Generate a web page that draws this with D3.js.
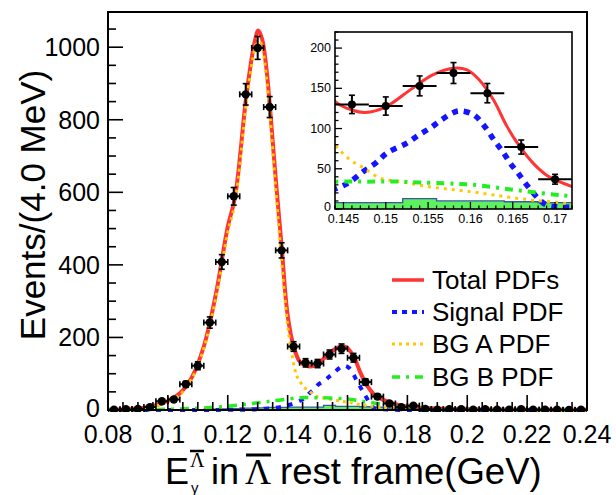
<!DOCTYPE html>
<html><head><meta charset="utf-8">
<script src="https://cdn.jsdelivr.net/npm/d3@7"></script>
<style>body{margin:0;background:#fff}svg{display:block}</style>
</head><body>
<svg id="c" width="616" height="495"></svg>
<script>
// ---------------- DATA ----------------
const binCenters = [0.082,0.086,0.090,0.094,0.098,0.102,0.106,0.110,0.114,0.118,
                    0.122,0.126,0.130,0.134,0.138,0.142,0.146,0.150,0.154,0.158,
                    0.162,0.166,0.170,0.174,0.178,0.182,0.186,0.190,0.194,0.198,
                    0.202,0.206,0.210,0.214,0.218,0.222,0.226,0.230,0.234,0.238];
const binHalfWidth = 0.002;
const counts = [1,2,3,8,24,29,71,122,241,408,
                589,870,998,835,440,175,130,128,153,169,
                144,77,37,18,8,12,3,1,2,2,
                1,2,1,1,2,1,1,1,0,1];
const peakingBg = [0,0,0,0,0,0,1,1,2,3,
                   4,5,6,7,7,8,8,8,13,10,
                   10,9,8,5,3,2,1,1,1,1,
                   1,1,1,1,1,1,1,1,1,1];
const totalPdf = [[0.080,1],[0.088,3],[0.092,6],[0.096,13],[0.100,25],[0.104,46],[0.108,90],
  [0.112,175],[0.116,318],[0.120,505],[0.1224,585],[0.1263,872],[0.129,1015],[0.1302,1046],
  [0.1315,1022],[0.133,935],[0.1341,835],[0.136,640],[0.138,450],[0.140,262],[0.142,176],
  [0.144,134],[0.146,123],[0.1476,120],[0.150,127],[0.153,149],[0.1556,167],[0.158,175],
  [0.1596,173],[0.161,161],[0.1627,136],[0.1643,103],[0.1658,78],[0.1674,57],[0.169,42],
  [0.1705,34],[0.172,28],[0.175,18],[0.180,9],[0.190,4],[0.200,2],[0.220,1],[0.240,1]];
const signalPdf = [[0.080,0],[0.120,0.5],[0.130,2],[0.136,6],[0.140,13],[0.1443,26],[0.1458,34],
  [0.1474,47],[0.1488,57],[0.1502,70],[0.1525,82],[0.1539,92],[0.1553,101],[0.1566,111],
  [0.158,120],[0.1588,122],[0.1604,117],[0.1618,101],[0.1629,84],[0.1639,70],[0.1647,57],
  [0.1656,45],[0.1668,28],[0.1682,11],[0.169,5],[0.170,3],[0.172,2],[0.176,0.5],[0.180,0],[0.240,0]];
const bgAPdf = [[0.080,0],[0.090,2],[0.096,11],[0.100,23],[0.104,42],[0.108,86],[0.112,170],
  [0.116,308],[0.120,490],[0.1224,570],[0.1263,852],[0.129,995],[0.1302,1025],[0.1315,1000],
  [0.133,912],[0.1341,812],[0.136,612],[0.138,410],[0.140,235],[0.1413,160],[0.143,95],
  [0.1443,76],[0.1458,61],[0.1474,51],[0.1494,38],[0.1517,34],[0.1549,28],[0.158,24],
  [0.1611,20],[0.1643,15],[0.1674,11],[0.1705,8],[0.172,6],[0.176,4],[0.180,2],[0.190,1],[0.240,0]];
const bgBPdf = [[0.080,0],[0.090,1],[0.100,2],[0.110,5],[0.118,9],[0.127,17],[0.132,22],
  [0.137,27],[0.1443,34],[0.1478,34],[0.1517,34],[0.154,33],[0.1568,32],[0.1588,31],
  [0.1604,30],[0.1635,26],[0.1666,22],[0.1698,18],[0.1717,16],[0.176,10],[0.180,5],
  [0.190,2],[0.200,1],[0.240,0]];
const mainXTicks = [0.08,0.10,0.12,0.14,0.16,0.18,0.20,0.22,0.24];
const mainXLabels = ["0.08","0.1","0.12","0.14","0.16","0.18","0.2","0.22","0.24"];
const mainYTicks = [0,200,400,600,800,1000];
const insetXTicks = [0.145,0.150,0.155,0.160,0.165,0.170];
const insetXLabels = ["0.145","0.15","0.155","0.16","0.165","0.17"];
const insetYTicks = [0,50,100,150,200];
const legendLabels = ["Total PDFs","Signal PDF","BG A PDF","BG B PDF"];

// ---------------- STYLE ----------------
const FONT = "'Liberation Sans', Arial, Helvetica, sans-serif";
const SERIF = "'Liberation Serif', 'DejaVu Serif', serif";
const C = {total:"#ff3434", signal:"#1414ff", bgA:"#ffc800", bgB:"#22ee22", histFill:"#5ef05e", histLine:"#3a56a8"};

const svg = d3.select("#c");
svg.append("rect").attr("width",616).attr("height",495).attr("fill","#fff");

function panel(opts){
  const {x, y, id, lw, markerR, capX, yMinorStep, xMinorStep, majLen, minLen, tickFont, frameW} = opts;
  const g = svg.append("g");
  const [x0,x1] = x.range(), [y0,y1] = y.range();
  g.append("clipPath").attr("id",id).append("rect")
    .attr("x",x0).attr("y",y1).attr("width",x1-x0).attr("height",y0-y1+2);
  const body = g.append("g").attr("clip-path",`url(#${id})`);
  // histogram
  const edges = binCenters.map((c,i)=>[c-binHalfWidth, peakingBg[i]]);
  edges.push([binCenters[binCenters.length-1]+binHalfWidth, peakingBg[peakingBg.length-1]]);
  body.append("path").datum(edges)
    .attr("d", d3.area().curve(d3.curveStepAfter).x(d=>x(d[0])).y0(y(0)).y1(d=>y(d[1])))
    .attr("fill",C.histFill).attr("stroke","none");
  body.append("path").datum(edges)
    .attr("d", d3.line().curve(d3.curveStepAfter).x(d=>x(d[0])).y(d=>y(d[1])))
    .attr("fill","none").attr("stroke",C.histLine).attr("stroke-width",1.3);
  const line = d3.line().curve(d3.curveCatmullRom.alpha(0.5)).x(d=>x(d[0])).y(d=>y(d[1]));
  const curves = [
    [totalPdf, C.total, lw.total, null],
    [signalPdf, C.signal, lw.signal, lw.signalDash],
    [bgAPdf, C.bgA, lw.bgA, lw.bgADash],
    [bgBPdf, C.bgB, lw.bgB, lw.bgBDash]
  ];
  curves.forEach(([d,col,w,dash])=>{
    body.append("path").datum(d).attr("d",line).attr("fill","none")
      .attr("stroke",col).attr("stroke-width",w)
      .attr("stroke-dasharray",dash).attr("stroke-linejoin","round");
  });
  // data points
  const pts = body.append("g");
  binCenters.forEach((c,i)=>{
    const n = counts[i], e = Math.sqrt(n);
    const cx = x(c), cy = y(n);
    const xl = x(c-binHalfWidth), xr = x(c+binHalfWidth);
    const yt = y(n+e), yb = y(Math.max(0,n-e));
    pts.append("line").attr("x1",xl).attr("x2",xr).attr("y1",cy).attr("y2",cy)
      .attr("stroke","#000").attr("stroke-width",2);
    pts.append("line").attr("x1",cx).attr("x2",cx).attr("y1",yt).attr("y2",yb)
      .attr("stroke","#000").attr("stroke-width",2);
    pts.append("line").attr("x1",cx-3).attr("x2",cx+3).attr("y1",yt).attr("y2",yt).attr("stroke","#000").attr("stroke-width",1.6);
    pts.append("line").attr("x1",cx-3).attr("x2",cx+3).attr("y1",yb).attr("y2",yb).attr("stroke","#000").attr("stroke-width",1.6);
    if (capX){
      pts.append("line").attr("x1",xl).attr("x2",xl).attr("y1",cy-3).attr("y2",cy+3).attr("stroke","#000").attr("stroke-width",1.6);
      pts.append("line").attr("x1",xr).attr("x2",xr).attr("y1",cy-3).attr("y2",cy+3).attr("stroke","#000").attr("stroke-width",1.6);
    }
    pts.append("circle").attr("cx",cx).attr("cy",cy).attr("r",markerR).attr("fill","#000");
  });
  // ticks (inward)
  const ax = g.append("g").attr("stroke","#000");
  const [dx0,dx1] = x.domain(), [dy0,dy1] = y.domain();
  d3.range(Math.ceil(dy0/yMinorStep-1e-9)*yMinorStep, dy1+1e-9, yMinorStep).forEach(v=>{
    const major = opts.yTicks.some(t=>Math.abs(t-v)<1e-9);
    ax.append("line").attr("x1",x0).attr("x2",x0+(major?majLen:minLen)).attr("y1",y(v)).attr("y2",y(v)).attr("stroke-width",frameW*0.8);
  });
  const nx = Math.round((dx1-dx0)/xMinorStep);
  for (let k=0;k<=nx+1;k++){
    const v = Math.ceil(dx0/xMinorStep-1e-6)*xMinorStep + k*xMinorStep;
    if (v>dx1+1e-9) break;
    const major = opts.xTicks.some(t=>Math.abs(t-v)<1e-7);
    ax.append("line").attr("x1",x(v)).attr("x2",x(v)).attr("y1",y0).attr("y2",y0-(major?majLen:minLen)).attr("stroke-width",frameW*0.8);
  }
  // frame
  g.append("rect").attr("x",x0).attr("y",y1).attr("width",x1-x0).attr("height",y0-y1)
    .attr("fill","none").attr("stroke","#000").attr("stroke-width",frameW);
  // labels
  opts.yTicks.forEach(v=>{
    g.append("text").attr("x",x0-opts.yLabelGap).attr("y",y(v)-(v===0?opts.zeroLift:0)).attr("text-anchor","end")
      .attr("dominant-baseline","central").attr("font-family",FONT).attr("font-size",tickFont).text(v);
  });
  opts.xTicks.forEach((v,i)=>{
    g.append("text").attr("x",x(v)).attr("y",y0+opts.xLabelDy).attr("text-anchor","middle")
      .attr("font-family",FONT).attr("font-size",tickFont).text(opts.xLabels[i]);
  });
  return g;
}

// main panel
const xMain = d3.scaleLinear().domain([0.08,0.24]).range([108,587]);
const yMain = d3.scaleLinear().domain([0,1097]).range([410,12]);
panel({x:xMain, y:yMain, id:"clipMain",
  lw:{total:4, signal:4, signalDash:"5,7", bgA:3, bgADash:"3,4", bgB:3.5, bgBDash:"9,6,3,6"},
  markerR:4.2, capX:true, yMinorStep:50, xMinorStep:0.005, majLen:15, minLen:8, tickFont:25, frameW:2,
  yTicks:mainYTicks, xTicks:mainXTicks, xLabels:mainXLabels, yLabelGap:8, xLabelDy:33, zeroLift:2});

// inset panel
const xIn = d3.scaleLinear().domain([0.144,0.172]).range([335,572]);
const yIn = d3.scaleLinear().domain([0,220]).range([209,32]);
svg.append("rect").attr("x",335).attr("y",32).attr("width",237).attr("height",177).attr("fill","#fff");
panel({x:xIn, y:yIn, id:"clipIn",
  lw:{total:3, signal:5.5, signalDash:"6,6", bgA:3, bgADash:"3,5", bgB:4, bgBDash:"8,6,3,6"},
  markerR:4, capX:false, yMinorStep:10, xMinorStep:0.001, majLen:7, minLen:3.5, tickFont:12.5, frameW:1.6,
  yTicks:insetYTicks, xTicks:insetXTicks, xLabels:insetXLabels, yLabelGap:4, xLabelDy:14, zeroLift:2});

// legend
const legStyles = [[C.total,3.5,null],[C.signal,4,"5,5"],[C.bgA,3,"3,4"],[C.bgB,3.5,"8,6,3,6"]];
const legY = [280,312,344,377];
legendLabels.forEach((t,i)=>{
  const [col,w,dash] = legStyles[i];
  svg.append("line").attr("x1",392).attr("x2",424).attr("y1",legY[i]).attr("y2",legY[i])
    .attr("stroke",col).attr("stroke-width",w).attr("stroke-dasharray",dash);
  svg.append("text").attr("x",432).attr("y",legY[i]).attr("dominant-baseline","central")
    .attr("font-family",FONT).attr("font-size",26).text(t);
});

// y-axis title
svg.append("text").attr("transform","translate(45,205) rotate(-90)").attr("text-anchor","middle")
  .attr("font-family",FONT).attr("font-size",35).text("Events/(4.0 MeV)");

// x-axis title
const tb = 484;
svg.append("text").attr("x",165).attr("y",tb).attr("font-family",FONT).attr("font-size",36).text("E");
svg.append("text").attr("x",190).attr("y",tb-17).attr("font-family",SERIF).attr("font-size",20).text("Λ");
svg.append("line").attr("x1",190).attr("x2",204).attr("y1",451).attr("y2",451).attr("stroke","#000").attr("stroke-width",2.5);
svg.append("text").attr("x",191).attr("y",tb+9).attr("font-family",FONT).attr("font-size",15).text("γ");
svg.append("text").attr("x",211).attr("y",tb).attr("font-family",FONT).attr("font-size",36).text("in");
svg.append("text").attr("x",245).attr("y",tb).attr("font-family",SERIF).attr("font-size",36).text("Λ");
svg.append("line").attr("x1",246).attr("x2",271).attr("y1",455).attr("y2",455).attr("stroke","#000").attr("stroke-width",3);
svg.append("text").attr("x",280).attr("y",tb).attr("font-family",FONT).attr("font-size",36.5).text("rest frame(GeV)");
</script>
</body></html>
